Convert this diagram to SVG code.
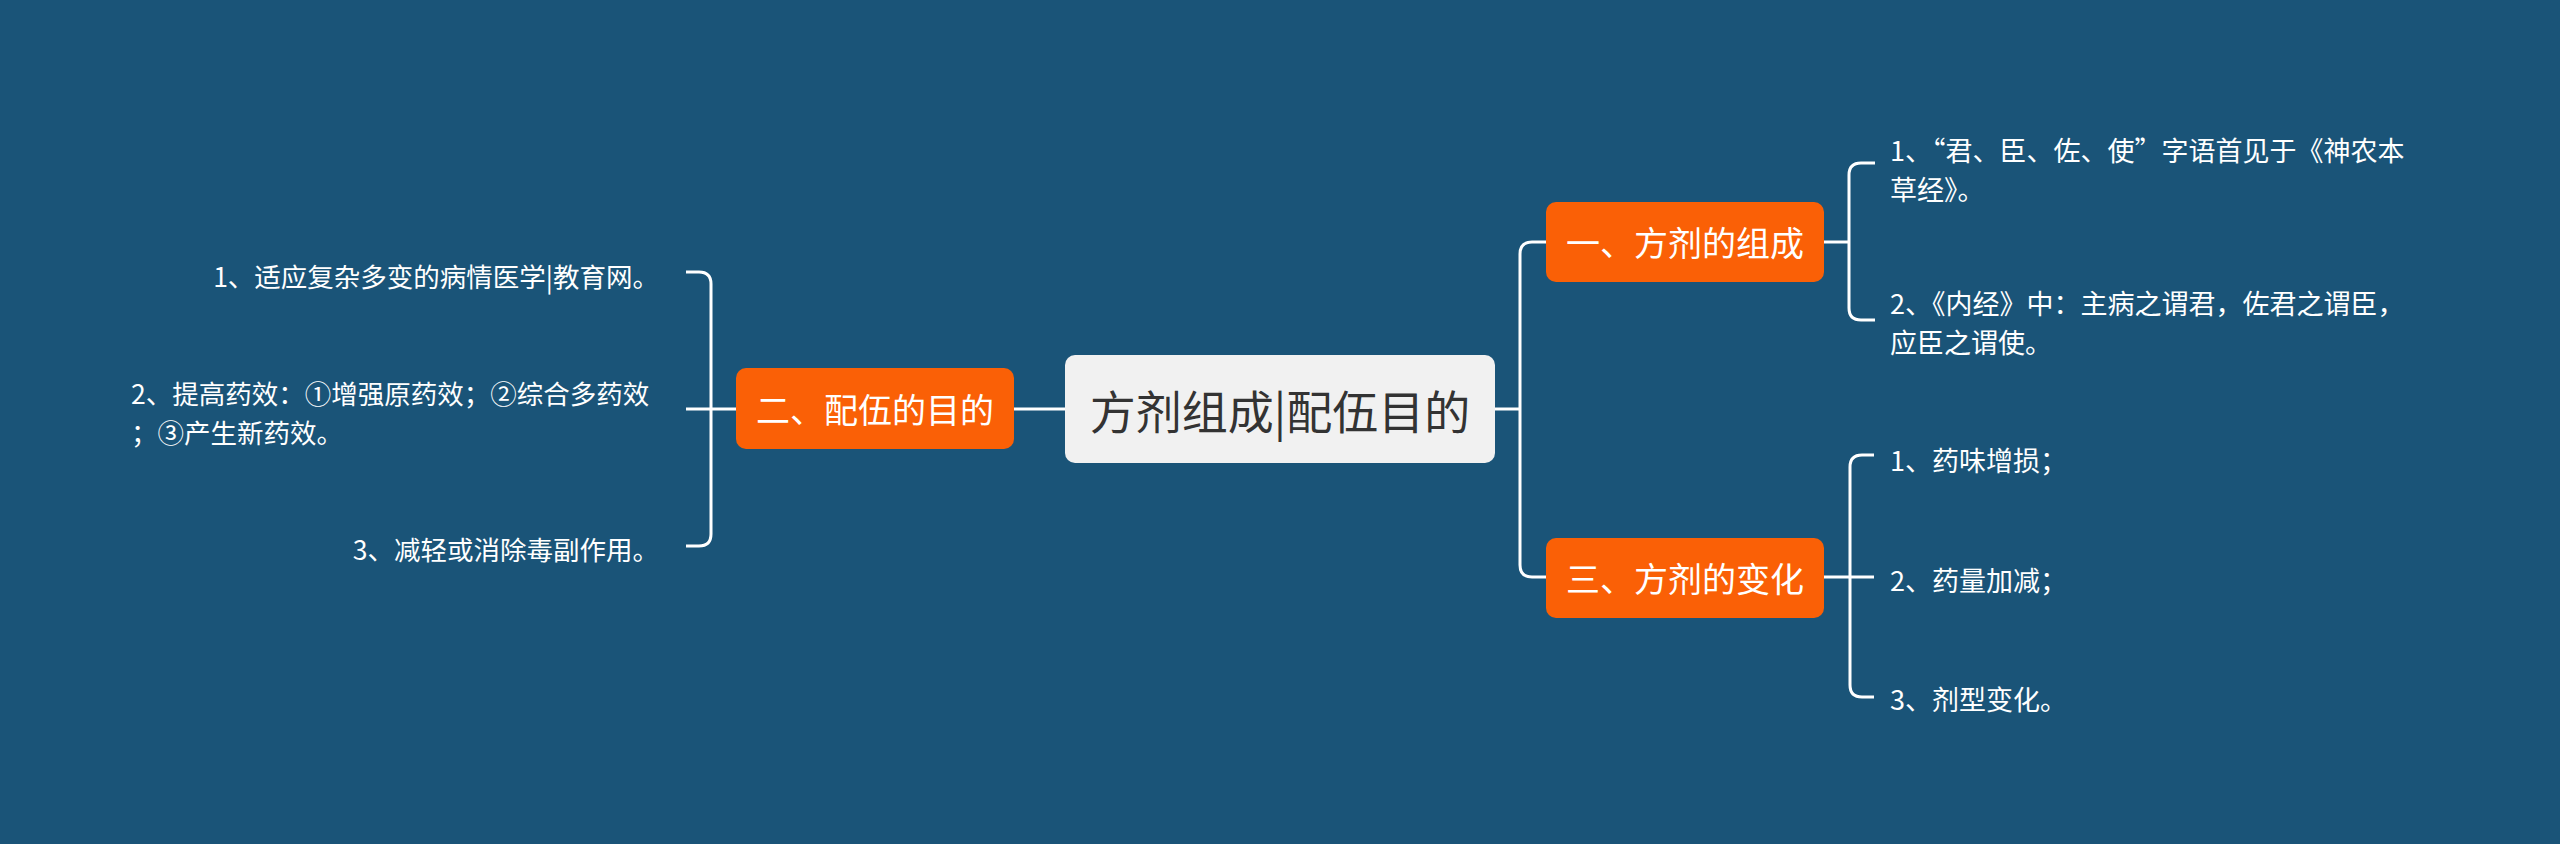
<svg xmlns="http://www.w3.org/2000/svg" width="2560" height="844" viewBox="0 0 2560 844">
<style>
.bg{fill:#1a5478}
.conn{fill:none;stroke:#ffffff;stroke-width:3;stroke-linecap:butt}
.t{font-family:"Noto Sans CJK SC","Noto Sans",sans-serif;dominant-baseline:central}
.root{fill:#f1f1f1}
.roottxt{font-size:46px;fill:#333333;text-anchor:middle}
.main{fill:#fa6006}
.maintxt{font-size:34px;fill:#ffffff;text-anchor:middle}
.leaf{font-size:26.5px;fill:#ffffff}
.leafr{font-size:27px;fill:#ffffff}
</style>
<rect class="bg" x="0" y="0" width="2560" height="844"/>
<g id="connectors">
<path class="conn" d="M1065,409 H1013"/>
<path class="conn" d="M736,409 H686"/>
<path class="conn" d="M686,272 H699 Q711,272 711,284 V534 Q711,546 699,546 H686"/>
<path class="conn" d="M1494,409 H1520"/>
<path class="conn" d="M1546,242 H1532 Q1520,242 1520,254 V565 Q1520,577 1532,577 H1546"/>
<path class="conn" d="M1824,242 H1849"/>
<path class="conn" d="M1875,163 H1861 Q1849,163 1849,175 V308 Q1849,320 1861,320 H1875"/>
<path class="conn" d="M1824,577 H1874"/>
<path class="conn" d="M1874,455 H1862 Q1850,455 1850,467 V685 Q1850,697 1862,697 H1874"/>
</g>
<g id="root">
<rect class="root" x="1065" y="355" width="430" height="108" rx="10"/>
<text class="t roottxt" x="1280" y="409">方剂组成|配伍目的</text>
</g>
<g id="node-2">
<rect class="main" x="736" y="368" width="278" height="81" rx="10"/>
<text class="t maintxt" x="875" y="408">二、配伍的目的</text>
</g>
<g id="node-1">
<rect class="main" x="1546" y="202" width="278" height="80" rx="10"/>
<text class="t maintxt" x="1685" y="241">一、方剂的组成</text>
</g>
<g id="node-3">
<rect class="main" x="1546" y="538" width="278" height="80" rx="10"/>
<text class="t maintxt" x="1685" y="577">三、方剂的变化</text>
</g>
<g id="leaf-2-1"><text class="t leaf" x="659" y="275" text-anchor="end">1、适应复杂多变的病情医学|教育网。</text></g>
<g id="leaf-2-2"><text class="t leaf" x="131" y="393"><tspan x="131" y="392">2、提高药效：①增强原药效；②综合多药效</tspan><tspan x="131" y="431">；③产生新药效。</tspan></text></g>
<g id="leaf-2-3"><text class="t leaf" x="659" y="548" text-anchor="end">3、减轻或消除毒副作用。</text></g>
<g id="leaf-1-1"><text class="t leafr" x="1890" y="150"><tspan x="1890" y="149">1、“君、臣、佐、使”字语首见于《神农本</tspan><tspan x="1890" y="188">草经》。</tspan></text></g>
<g id="leaf-1-2"><text class="t leafr" x="1890" y="303"><tspan x="1890" y="302">2、《内经》中：主病之谓君，佐君之谓臣，</tspan><tspan x="1890" y="341">应臣之谓使。</tspan></text></g>
<g id="leaf-3-1"><text class="t leafr" x="1890" y="459">1、药味增损；</text></g>
<g id="leaf-3-2"><text class="t leafr" x="1890" y="579">2、药量加减；</text></g>
<g id="leaf-3-3"><text class="t leafr" x="1890" y="698">3、剂型变化。</text></g>
</svg>
